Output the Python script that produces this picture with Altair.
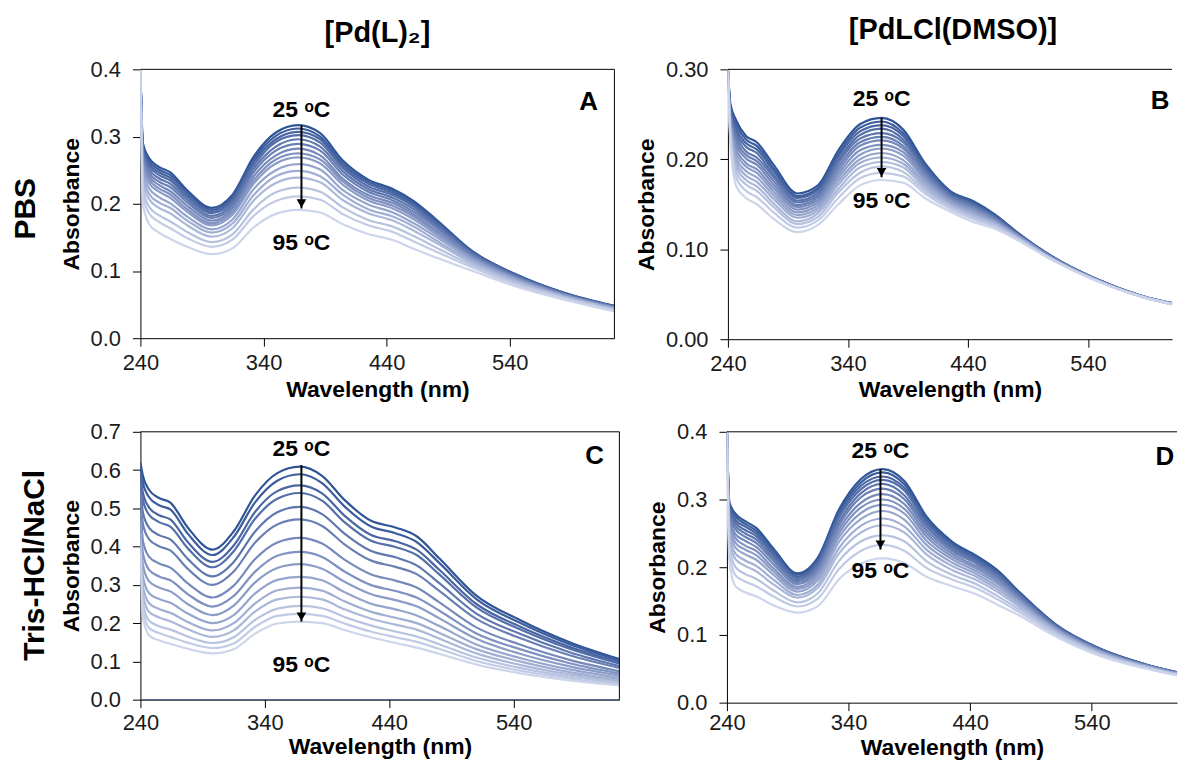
import altair as alt
import pandas as pd

# ---------------- data ----------------
W = [240, 242, 247, 255, 264, 278, 298, 315, 332, 350, 368, 386, 404, 425, 445, 462, 480, 510, 545, 585, 625]
TEMPS = [25, 30, 35, 40, 45, 50, 55, 60, 65, 70, 75, 80, 85, 90, 95]
X_TICKS = [240, 340, 440, 540]

# Panel A: [Pd(L)2] in PBS
A_ROWS = [
    [0.400, 0.290, 0.268, 0.255, 0.247, 0.220, 0.194, 0.214, 0.270, 0.306, 0.317, 0.305, 0.265, 0.236, 0.222, 0.204, 0.177, 0.129, 0.095, 0.067, 0.048],
    [0.400, 0.286, 0.264, 0.251, 0.243, 0.217, 0.191, 0.211, 0.266, 0.301, 0.312, 0.300, 0.261, 0.233, 0.219, 0.201, 0.175, 0.128, 0.094, 0.067, 0.048],
    [0.400, 0.283, 0.260, 0.247, 0.239, 0.213, 0.188, 0.208, 0.262, 0.296, 0.307, 0.296, 0.257, 0.230, 0.216, 0.198, 0.172, 0.127, 0.094, 0.066, 0.047],
    [0.400, 0.279, 0.256, 0.243, 0.235, 0.210, 0.186, 0.204, 0.257, 0.292, 0.302, 0.291, 0.254, 0.226, 0.213, 0.196, 0.170, 0.126, 0.093, 0.066, 0.047],
    [0.400, 0.275, 0.251, 0.238, 0.230, 0.206, 0.182, 0.200, 0.252, 0.285, 0.296, 0.285, 0.249, 0.222, 0.209, 0.192, 0.167, 0.124, 0.092, 0.065, 0.047],
    [0.400, 0.270, 0.246, 0.233, 0.225, 0.202, 0.179, 0.196, 0.247, 0.279, 0.289, 0.279, 0.244, 0.218, 0.205, 0.188, 0.165, 0.123, 0.091, 0.065, 0.046],
    [0.400, 0.265, 0.241, 0.228, 0.219, 0.197, 0.175, 0.192, 0.241, 0.272, 0.282, 0.272, 0.238, 0.213, 0.201, 0.184, 0.161, 0.121, 0.090, 0.064, 0.046],
    [0.400, 0.260, 0.236, 0.223, 0.214, 0.192, 0.171, 0.188, 0.235, 0.266, 0.275, 0.266, 0.234, 0.209, 0.197, 0.181, 0.158, 0.119, 0.089, 0.064, 0.045],
    [0.400, 0.256, 0.231, 0.218, 0.209, 0.188, 0.168, 0.184, 0.230, 0.260, 0.269, 0.260, 0.229, 0.205, 0.193, 0.177, 0.155, 0.118, 0.088, 0.063, 0.045],
    [0.400, 0.249, 0.223, 0.210, 0.201, 0.181, 0.162, 0.177, 0.222, 0.250, 0.259, 0.251, 0.221, 0.199, 0.187, 0.171, 0.151, 0.116, 0.087, 0.062, 0.044],
    [0.400, 0.241, 0.215, 0.202, 0.194, 0.175, 0.157, 0.171, 0.213, 0.241, 0.249, 0.241, 0.214, 0.192, 0.181, 0.166, 0.146, 0.113, 0.085, 0.062, 0.044],
    [0.400, 0.234, 0.207, 0.194, 0.186, 0.168, 0.151, 0.164, 0.205, 0.231, 0.239, 0.232, 0.206, 0.186, 0.175, 0.160, 0.142, 0.111, 0.084, 0.061, 0.043],
    [0.400, 0.223, 0.196, 0.183, 0.174, 0.158, 0.143, 0.155, 0.192, 0.217, 0.224, 0.218, 0.195, 0.176, 0.166, 0.152, 0.135, 0.108, 0.082, 0.060, 0.042],
    [0.400, 0.214, 0.186, 0.173, 0.164, 0.149, 0.136, 0.147, 0.182, 0.204, 0.211, 0.206, 0.185, 0.168, 0.158, 0.144, 0.129, 0.105, 0.080, 0.059, 0.041],
    [0.400, 0.200, 0.170, 0.157, 0.148, 0.136, 0.125, 0.134, 0.165, 0.185, 0.191, 0.187, 0.170, 0.155, 0.146, 0.133, 0.120, 0.100, 0.077, 0.057, 0.040],
]

# Panel B: [PdLCl(DMSO)] in PBS
B_ROWS = [
    [0.300, 0.262, 0.243, 0.226, 0.219, 0.194, 0.162, 0.171, 0.210, 0.239, 0.246, 0.233, 0.196, 0.165, 0.153, 0.139, 0.120, 0.092, 0.068, 0.048, 0.036],
    [0.300, 0.259, 0.239, 0.222, 0.215, 0.190, 0.159, 0.168, 0.206, 0.235, 0.242, 0.229, 0.194, 0.164, 0.152, 0.138, 0.119, 0.092, 0.068, 0.048, 0.036],
    [0.300, 0.257, 0.234, 0.218, 0.211, 0.187, 0.157, 0.166, 0.203, 0.231, 0.238, 0.226, 0.191, 0.162, 0.150, 0.137, 0.119, 0.092, 0.068, 0.048, 0.036],
    [0.300, 0.254, 0.230, 0.214, 0.207, 0.183, 0.154, 0.163, 0.199, 0.227, 0.234, 0.222, 0.189, 0.161, 0.149, 0.136, 0.118, 0.091, 0.068, 0.048, 0.036],
    [0.300, 0.252, 0.226, 0.209, 0.202, 0.180, 0.152, 0.160, 0.196, 0.223, 0.229, 0.219, 0.187, 0.160, 0.148, 0.135, 0.118, 0.091, 0.068, 0.048, 0.036],
    [0.300, 0.249, 0.221, 0.205, 0.198, 0.176, 0.149, 0.158, 0.192, 0.219, 0.225, 0.215, 0.184, 0.158, 0.146, 0.134, 0.117, 0.091, 0.067, 0.048, 0.036],
    [0.300, 0.247, 0.217, 0.201, 0.194, 0.172, 0.147, 0.155, 0.188, 0.215, 0.221, 0.212, 0.182, 0.157, 0.145, 0.133, 0.117, 0.091, 0.067, 0.048, 0.036],
    [0.300, 0.244, 0.212, 0.196, 0.189, 0.168, 0.144, 0.152, 0.184, 0.210, 0.216, 0.208, 0.179, 0.155, 0.143, 0.132, 0.116, 0.090, 0.067, 0.048, 0.036],
    [0.300, 0.241, 0.207, 0.192, 0.185, 0.164, 0.141, 0.149, 0.180, 0.205, 0.212, 0.204, 0.177, 0.154, 0.142, 0.131, 0.116, 0.090, 0.067, 0.048, 0.036],
    [0.300, 0.238, 0.201, 0.187, 0.180, 0.160, 0.138, 0.146, 0.176, 0.200, 0.207, 0.199, 0.174, 0.152, 0.140, 0.130, 0.115, 0.090, 0.067, 0.047, 0.035],
    [0.300, 0.235, 0.196, 0.182, 0.175, 0.156, 0.135, 0.143, 0.172, 0.196, 0.202, 0.195, 0.171, 0.150, 0.138, 0.129, 0.114, 0.089, 0.067, 0.047, 0.035],
    [0.300, 0.232, 0.191, 0.177, 0.170, 0.151, 0.131, 0.140, 0.167, 0.191, 0.197, 0.191, 0.168, 0.149, 0.137, 0.128, 0.114, 0.089, 0.067, 0.047, 0.035],
    [0.300, 0.229, 0.185, 0.172, 0.165, 0.147, 0.128, 0.136, 0.163, 0.185, 0.192, 0.186, 0.165, 0.147, 0.135, 0.126, 0.113, 0.089, 0.066, 0.047, 0.035],
    [0.300, 0.225, 0.179, 0.165, 0.158, 0.141, 0.124, 0.132, 0.157, 0.179, 0.185, 0.181, 0.162, 0.145, 0.133, 0.125, 0.112, 0.089, 0.066, 0.047, 0.035],
    [0.300, 0.220, 0.170, 0.157, 0.150, 0.134, 0.119, 0.127, 0.150, 0.171, 0.177, 0.174, 0.157, 0.142, 0.130, 0.123, 0.111, 0.088, 0.066, 0.047, 0.035],
]

# Panel C: [Pd(L)2] in Tris-HCl/NaCl
C_ROWS = [
    [0.620, 0.585, 0.548, 0.527, 0.515, 0.450, 0.392, 0.440, 0.533, 0.592, 0.609, 0.585, 0.522, 0.468, 0.450, 0.427, 0.370, 0.272, 0.208, 0.150, 0.106],
    [0.608, 0.567, 0.529, 0.508, 0.497, 0.434, 0.378, 0.425, 0.515, 0.572, 0.589, 0.566, 0.505, 0.453, 0.435, 0.412, 0.358, 0.263, 0.201, 0.145, 0.103],
    [0.591, 0.541, 0.502, 0.482, 0.471, 0.412, 0.360, 0.403, 0.490, 0.545, 0.560, 0.539, 0.481, 0.431, 0.414, 0.392, 0.340, 0.250, 0.191, 0.138, 0.098],
    [0.579, 0.522, 0.483, 0.464, 0.452, 0.396, 0.346, 0.388, 0.472, 0.525, 0.540, 0.520, 0.464, 0.416, 0.399, 0.378, 0.328, 0.241, 0.184, 0.133, 0.094],
    [0.558, 0.489, 0.449, 0.430, 0.419, 0.368, 0.322, 0.360, 0.439, 0.490, 0.504, 0.485, 0.434, 0.389, 0.372, 0.351, 0.305, 0.225, 0.172, 0.124, 0.088],
    [0.538, 0.459, 0.419, 0.401, 0.390, 0.342, 0.300, 0.335, 0.410, 0.458, 0.471, 0.454, 0.406, 0.364, 0.347, 0.328, 0.285, 0.211, 0.161, 0.116, 0.083],
    [0.510, 0.415, 0.373, 0.356, 0.345, 0.304, 0.267, 0.298, 0.367, 0.411, 0.423, 0.408, 0.366, 0.328, 0.311, 0.293, 0.255, 0.189, 0.144, 0.104, 0.074],
    [0.488, 0.382, 0.339, 0.322, 0.312, 0.276, 0.243, 0.271, 0.334, 0.376, 0.386, 0.373, 0.335, 0.300, 0.284, 0.267, 0.233, 0.173, 0.132, 0.095, 0.068],
    [0.469, 0.352, 0.309, 0.293, 0.283, 0.250, 0.221, 0.246, 0.306, 0.344, 0.354, 0.342, 0.308, 0.276, 0.260, 0.244, 0.213, 0.159, 0.120, 0.087, 0.063],
    [0.450, 0.322, 0.278, 0.263, 0.253, 0.225, 0.200, 0.221, 0.277, 0.313, 0.321, 0.312, 0.281, 0.251, 0.236, 0.220, 0.193, 0.144, 0.109, 0.079, 0.057],
    [0.433, 0.296, 0.252, 0.237, 0.227, 0.203, 0.181, 0.200, 0.251, 0.286, 0.293, 0.285, 0.257, 0.230, 0.214, 0.200, 0.175, 0.132, 0.100, 0.072, 0.052],
    [0.418, 0.274, 0.229, 0.215, 0.205, 0.184, 0.164, 0.181, 0.230, 0.262, 0.269, 0.262, 0.236, 0.212, 0.196, 0.183, 0.160, 0.121, 0.091, 0.066, 0.048],
    [0.404, 0.252, 0.206, 0.192, 0.183, 0.165, 0.148, 0.163, 0.208, 0.238, 0.245, 0.239, 0.216, 0.194, 0.178, 0.165, 0.145, 0.110, 0.083, 0.060, 0.044],
    [0.392, 0.234, 0.187, 0.174, 0.164, 0.149, 0.135, 0.147, 0.190, 0.219, 0.224, 0.219, 0.199, 0.178, 0.163, 0.151, 0.133, 0.101, 0.076, 0.055, 0.040],
    [0.380, 0.215, 0.168, 0.155, 0.146, 0.133, 0.121, 0.132, 0.172, 0.199, 0.204, 0.200, 0.182, 0.163, 0.148, 0.136, 0.120, 0.092, 0.069, 0.050, 0.037],
]
C_ZERO = [0.0, 0.0, 0.0, 0.0, 0.0, 0.0, 0.0, 0.0, 0.0, 0.0, 0.0, 0.0, 0.0, 0.0, 0.0, 0.0, 0.0, 0.0, 0.0, 0.0, 0.0]

# Panel D: [PdLCl(DMSO)] in Tris-HCl/NaCl
D_ROWS = [
    [0.400, 0.296, 0.279, 0.268, 0.258, 0.228, 0.191, 0.215, 0.285, 0.330, 0.345, 0.327, 0.275, 0.238, 0.217, 0.196, 0.164, 0.116, 0.081, 0.056, 0.039],
    [0.400, 0.293, 0.275, 0.264, 0.254, 0.225, 0.189, 0.212, 0.281, 0.325, 0.340, 0.322, 0.271, 0.235, 0.215, 0.194, 0.163, 0.115, 0.081, 0.056, 0.039],
    [0.400, 0.289, 0.270, 0.260, 0.250, 0.221, 0.186, 0.209, 0.277, 0.320, 0.334, 0.317, 0.268, 0.233, 0.212, 0.192, 0.161, 0.115, 0.080, 0.056, 0.039],
    [0.400, 0.286, 0.266, 0.255, 0.246, 0.218, 0.184, 0.206, 0.273, 0.315, 0.329, 0.313, 0.264, 0.230, 0.210, 0.190, 0.160, 0.114, 0.080, 0.055, 0.039],
    [0.400, 0.281, 0.261, 0.250, 0.241, 0.214, 0.181, 0.203, 0.267, 0.309, 0.323, 0.306, 0.260, 0.227, 0.207, 0.187, 0.158, 0.113, 0.079, 0.055, 0.038],
    [0.400, 0.277, 0.256, 0.245, 0.236, 0.210, 0.178, 0.199, 0.262, 0.303, 0.316, 0.300, 0.255, 0.224, 0.205, 0.185, 0.156, 0.112, 0.079, 0.055, 0.038],
    [0.400, 0.272, 0.249, 0.239, 0.230, 0.205, 0.175, 0.195, 0.256, 0.295, 0.308, 0.293, 0.250, 0.220, 0.201, 0.182, 0.154, 0.111, 0.078, 0.054, 0.038],
    [0.400, 0.267, 0.243, 0.232, 0.224, 0.199, 0.171, 0.191, 0.250, 0.288, 0.300, 0.286, 0.245, 0.216, 0.198, 0.179, 0.152, 0.110, 0.077, 0.054, 0.038],
    [0.400, 0.262, 0.236, 0.226, 0.218, 0.194, 0.168, 0.186, 0.244, 0.280, 0.292, 0.279, 0.239, 0.212, 0.194, 0.176, 0.150, 0.109, 0.077, 0.054, 0.037],
    [0.400, 0.256, 0.229, 0.219, 0.211, 0.189, 0.164, 0.181, 0.237, 0.271, 0.283, 0.270, 0.233, 0.207, 0.190, 0.172, 0.148, 0.108, 0.076, 0.053, 0.037],
    [0.400, 0.249, 0.220, 0.210, 0.202, 0.182, 0.159, 0.175, 0.228, 0.261, 0.272, 0.260, 0.226, 0.202, 0.186, 0.168, 0.145, 0.106, 0.075, 0.053, 0.037],
    [0.400, 0.242, 0.212, 0.202, 0.194, 0.175, 0.155, 0.170, 0.220, 0.251, 0.262, 0.251, 0.219, 0.196, 0.181, 0.164, 0.142, 0.105, 0.074, 0.052, 0.037],
    [0.400, 0.232, 0.200, 0.190, 0.183, 0.166, 0.148, 0.162, 0.209, 0.238, 0.247, 0.238, 0.209, 0.189, 0.175, 0.158, 0.138, 0.103, 0.073, 0.052, 0.036],
    [0.400, 0.223, 0.188, 0.179, 0.172, 0.157, 0.142, 0.154, 0.197, 0.224, 0.233, 0.224, 0.199, 0.182, 0.169, 0.153, 0.134, 0.101, 0.072, 0.051, 0.036],
    [0.400, 0.210, 0.172, 0.163, 0.157, 0.144, 0.133, 0.143, 0.182, 0.205, 0.213, 0.206, 0.186, 0.172, 0.160, 0.145, 0.129, 0.098, 0.070, 0.050, 0.035],
]

# annotation positions (data units: nm, absorbance)
A_ARROW = [370.8, 0.317, 0.193]
B_ARROW = [368.0, 0.246, 0.180]
C_ARROW = [369.4, 0.613, 0.204]
D_ARROW = [366.2, 0.345, 0.226]
A_TEXT = [0.339, 0.142]
B_TEXT = [0.267, 0.154]
C_TEXT = [0.656, 0.091]
D_TEXT = [0.371, 0.195]
LETTERS = {"A": [604, 0.351], "B": [600, 0.265], "C": [605, 0.637], "D": [600, 0.362]}

FONT = "Liberation Sans"
COLOR_SCALE = alt.Scale(domain=[25, 95], range=["#2f5597", "#cdd5eb"])
ONE = pd.DataFrame({"k": [0]})


def spectra_df(rows):
    recs = []
    for t, row in zip(TEMPS, rows):
        for w, v in zip(W, row):
            recs.append({"wl": w, "abs": v, "temp": t})
    return pd.DataFrame(recs)


def panel(rows, width, height, xdom, ydom, yticks, yfmt, xlab_pad, xtitle_pad,
          arrow, texts, letter, anchor, right_frame, zero_line=None, extra_layers=()):
    xe = alt.X("wl:Q", scale=alt.Scale(domain=xdom, nice=False, zero=False),
               axis=alt.Axis(values=X_TICKS, title="Wavelength (nm)", format="d",
                             labelPadding=xlab_pad, titlePadding=xtitle_pad,
                             labelOverlap=False, labelFlush=False))
    ye = alt.Y("abs:Q", scale=alt.Scale(domain=ydom, nice=False, zero=True),
               axis=alt.Axis(values=yticks, format=yfmt, title="Absorbance",
                             labelPadding=12, titlePadding=7,
                             labelOverlap=False, labelFlush=False))

    layers = []
    if zero_line is not None:
        zdf = pd.DataFrame({"wl": W, "abs": zero_line})
        layers.append(alt.Chart(zdf).mark_line(color="#2f5597", strokeWidth=1.5, clip=True)
                      .encode(x=xe, y=ye))

    layers.append(alt.Chart(spectra_df(rows)).mark_line(
        interpolate="monotone", strokeWidth=2.2, clip=True
    ).encode(
        x=xe, y=ye,
        color=alt.Color("temp:Q", scale=COLOR_SCALE, legend=None),
        detail="temp:N",
    ))

    adf = pd.DataFrame({"wl": [arrow[0]], "abs": [arrow[1]], "abs2": [arrow[2]]})
    layers.append(alt.Chart(adf).mark_rule(color="black", strokeWidth=2).encode(
        x=xe, y=ye, y2="abs2:Q"))
    tdf = pd.DataFrame({"wl": [arrow[0]], "abs": [arrow[2]]})
    layers.append(alt.Chart(tdf).mark_point(shape="triangle-down", filled=True, size=95,
                                             color="black", opacity=1, yOffset=-5).encode(
        x=xe, y=ye))

    txt = pd.DataFrame({"wl": [arrow[0], arrow[0]], "abs": texts,
                        "label": ["25 \u1d52C", "95 \u1d52C"]})
    layers.append(alt.Chart(txt).mark_text(font=FONT, fontSize=23, fontWeight="bold",
                                           color="black", baseline="middle").encode(
        x=xe, y=ye, text="label:N"))

    ldf = pd.DataFrame({"wl": [LETTERS[letter][0]], "abs": [LETTERS[letter][1]], "label": [letter]})
    layers.append(alt.Chart(ldf).mark_text(font=FONT, fontSize=26, fontWeight="bold",
                                           color="black", baseline="middle").encode(
        x=xe, y=ye, text="label:N"))

    layers += list(extra_layers)

    # frame lines (top, and right where visible)
    layers.append(alt.Chart(ONE).mark_rule(color="black", strokeWidth=1).encode(
        x=alt.value(0), x2=alt.value(width), y=alt.value(0)))
    if right_frame:
        layers.append(alt.Chart(ONE).mark_rule(color="black", strokeWidth=1).encode(
            x=alt.value(width), y=alt.value(0), y2=alt.value(height)))

    # invisible layout anchor fixing the panel's bounding box
    layers.append(alt.Chart(ONE).mark_rule(opacity=0).encode(
        x=alt.value(anchor[0]), x2=alt.value(anchor[1]),
        y=alt.value(anchor[2]), y2=alt.value(anchor[3])))

    return alt.layer(*layers).properties(width=width, height=height)


def label_layer(text, x, y, size, angle=0):
    df = pd.DataFrame({"t": [text]})
    mk = dict(font=FONT, fontSize=size, fontWeight="bold", color="black",
              align="center", baseline="middle")
    if angle:
        mk["angle"] = angle
    return alt.Chart(df).mark_text(**mk).encode(text="t:N", x=alt.value(x), y=alt.value(y))


A_extra = [label_layer("[Pd(L)\u2082]", 238, -36, 29),
           label_layer("PBS", -115, 140, 30, angle=270)]
B_extra = [label_layer("[PdLCl(DMSO)]", 226, -39, 29)]
C_extra = [label_layer("Tris-HCl/NaCl", -106, 134, 30, angle=270)]

pA = panel(A_ROWS, 476, 270, [240, 625], [0, 0.4], [0, 0.1, 0.2, 0.3, 0.4], ".1f", 6, 6,
           A_ARROW, A_TEXT, "A", [-133, 486, -57, 346], True, None, A_extra)
pB = panel(B_ROWS, 446, 271, [240, 610], [0, 0.3], [0, 0.1, 0.2, 0.3], ".2f", 6, 5,
           B_ARROW, B_TEXT, "B", [-104, 446, -60, 343], False, None, B_extra)
pC = panel(C_ROWS, 481, 269, [240, 625], [0, 0.7], [0, 0.1, 0.2, 0.3, 0.4, 0.5, 0.6, 0.7], ".1f", 5, 2,
           C_ARROW, C_TEXT, "C", [-128, 491, -18, 330], True, C_ZERO, C_extra)
pD = panel(D_ROWS, 452, 272, [240, 610], [0, 0.4], [0, 0.1, 0.2, 0.3, 0.4], ".1f", 2, 3,
           D_ARROW, D_TEXT, "D", [-98, 452, -17, 331], False)

row1 = alt.hconcat(pA, pB, spacing=0)
row2 = alt.hconcat(pC, pD, spacing=0)

chart = alt.vconcat(row1, row2, spacing=0).properties(padding=0).configure_view(
    stroke=None
).configure_axis(
    grid=False,
    domainColor="black", domainWidth=1,
    tickColor="black", tickWidth=1, tickSize=8,
    labelFont=FONT, labelFontSize=22, labelColor="#1a1a1a",
    labelFlush=False, labelOverlap=False,
    titleFont=FONT, titleFontSize=23, titleFontWeight="bold", titleColor="black",
)

chart.save("out.html", embed_options={"renderer": "svg", "actions": False})
